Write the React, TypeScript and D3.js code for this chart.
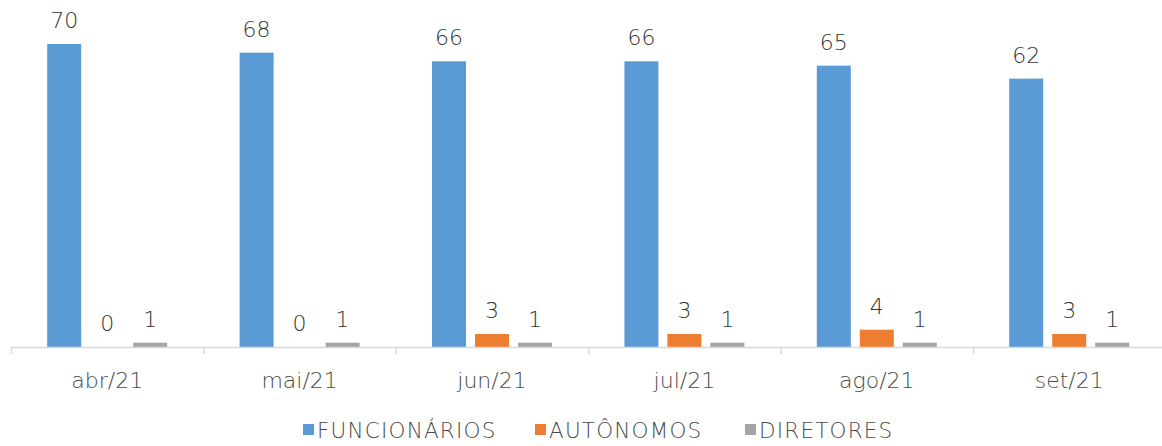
import React from "react";
import * as d3 from "d3";

const months = ["abr/21", "mai/21", "jun/21", "jul/21", "ago/21", "set/21"];
const seriesNames = ["FUNCIONÁRIOS", "AUTÔNOMOS", "DIRETORES"];
const funcionarios = [70, 68, 66, 66, 65, 62];
const autonomos = [0, 0, 3, 3, 4, 3];
const diretores = [1, 1, 1, 1, 1, 1];
const colors = ["#5B9BD5", "#ED7D31", "#A5A5A5"];

const W = 1162;
const H = 446;
const FONT = "'DejaVu Sans', sans-serif";

export default function App() {
  const values = [funcionarios, autonomos, diretores];
  const baseY = 347;
  const x = d3.scaleBand<string>().domain(months).range([11, 11 + 6 * 192.4]).padding(0);
  const groupW = 120;
  const inner = d3
    .scaleBand<string>()
    .domain(seriesNames)
    .range([0, groupW])
    .paddingInner(0.209)
    .paddingOuter(0);
  const y = d3.scaleLinear().domain([0, 70]).range([baseY, 44]);

  const legendX = [303, 535, 745];

  return (
    <svg
      width={W}
      height={H}
      style={{ position: "absolute", left: 0, top: 0, background: "#fff" }}
      fontFamily={FONT}
      fontWeight={200}
    >
      {months.map((m, i) => {
        const gx = (x(m) as number) + x.bandwidth() / 2 - groupW / 2;
        return (
          <g key={m}>
            {seriesNames.map((s, j) => {
              const v = values[j][i];
              const bx = gx + (inner(s) as number);
              const by = y(v);
              return (
                <g key={s}>
                  {v > 0 && (
                    <rect
                      x={bx}
                      y={by}
                      width={inner.bandwidth()}
                      height={baseY - by}
                      fill={colors[j]}
                    />
                  )}
                  <text
                    x={bx + inner.bandwidth() / 2}
                    y={by - 16}
                    textAnchor="middle"
                    fontSize={22}
                    fill="#333333"
                  >
                    {v}
                  </text>
                </g>
              );
            })}
          </g>
        );
      })}
      <line x1={11} x2={W} y1={baseY + 0.5} y2={baseY + 0.5} stroke="#D9D9D9" strokeWidth={1.5} />
      {months.map((m) => (
        <line
          key={"t" + m}
          x1={(x(m) as number) + 0.5}
          x2={(x(m) as number) + 0.5}
          y1={baseY}
          y2={baseY + 7}
          stroke="#D9D9D9"
          strokeWidth={1.5}
        />
      ))}
      {months.map((m) => (
        <text
          key={"l" + m}
          x={(x(m) as number) + x.bandwidth() / 2}
          y={388}
          textAnchor="middle"
          fontSize={22}
          fill="#4a4a4a"
        >
          {m}
        </text>
      ))}
      {seriesNames.map((s, j) => (
        <g key={"lg" + s}>
          <rect x={legendX[j]} y={424} width={11} height={11} fill={colors[j]} />
          <text x={legendX[j] + 14} y={438} fontSize={21.5} fill="#4a4a4a" letterSpacing={1.2}>
            {s}
          </text>
        </g>
      ))}
    </svg>
  );
}
